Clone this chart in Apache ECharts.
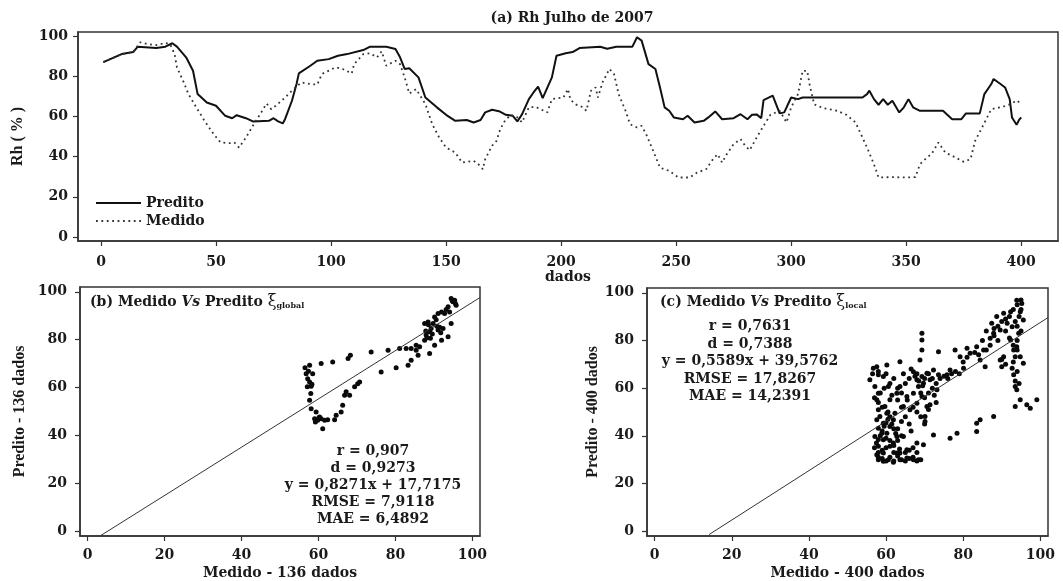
<!DOCTYPE html>
<html><head><meta charset="utf-8">
<script src="https://cdn.jsdelivr.net/npm/echarts@6/dist/echarts.min.js"></script>
<style>html,body{margin:0;padding:0;background:#fff}#c{width:1063px;height:581px}</style>
</head><body><div id="c"></div>
<script>
// ---- (a) time series: index of sample (dados) and Rh (%) ----
const predX = [1,5,9,14,16,24,28,31,33,37,40,42,46,50,54,57,59,63,66,73,75,77,79,80,83,85,86,91,94,99,103,107,114,117,124,128,130,132,134,138,141,146,150,154,159,162,165,167,170,173,176,179,181,183,186,188,190,192,196,198,202,205,208,217,220,224,231,233,235,238,241,243,245,247,249,253,255,258,262,264,267,270,275,278,281,283,285,287,288,292,295,297,300,303,305,331,333,334,336,338,340,342,344,347,349,351,353,356,366,370,374,376,382,384,387,388,391,393,395,396,398,399,400];
const predY = [87,89,91,92,94.7,94,94.7,96.4,94.7,89.4,82.7,71.1,66.9,65.3,60.3,59.1,60.6,59.1,57.5,57.8,59.1,57.5,56.5,58.6,67.8,76.1,81.4,85.2,87.7,88.5,90.2,91,93,94.7,94.7,93.5,89.4,83.6,84,79.4,69.4,64.5,60.8,57.8,58.2,57,58.2,62,63.3,62.6,60.8,60.3,57.5,61,68.6,71.9,74.8,69.1,79.4,90.2,91.4,92,94,94.7,93.7,94.7,94.7,99.4,97.7,86,83.6,74.4,64.5,62.8,59.5,58.6,60.3,57,57.8,59.5,62.5,58.6,59.1,61.1,58.6,60.8,61,59.1,68.1,70.3,61.5,62,69.4,68.6,69.4,69.4,71.1,72.8,68.6,65.8,68.6,65.8,67.8,62,64.5,68.6,64.5,62.8,62.8,58.6,58.6,61.5,61.5,71.1,76.1,78.6,76.1,74.4,68.6,59.5,55.8,58.1,59.5];
const medX = [1,5,9,14,17,20,24,28,30,32,33,36,38,41,45,49,52,56,58,60,63,66,69,72,74,76,80,83,87,91,94,96,102,105,109,110,114,117,120,122,124,128,130,132,134,137,141,144,147,150,154,157,162,164,166,167,170,172,173,175,178,181,183,186,189,194,196,201,203,204,206,209,211,213,215,216,218,221,223,225,228,230,233,235,237,240,243,247,251,256,259,263,266,268,270,272,275,278,280,282,285,288,291,295,298,300,303,305,307,308,310,314,320,324,328,330,333,336,338,344,350,354,356,359,361,364,367,370,375,378,380,383,387,392,396,398,400];
const medY = [87,89,91,92,96.9,96,95.5,96.5,96,91,84.4,76.9,71.1,65.3,57.8,51.1,47,46.7,47,44.5,49.5,55.3,60.8,66.4,63.6,65.3,69.4,72.8,76.9,76.1,75.8,81.1,84.4,83.6,81.4,86,91,91.4,89.4,92.4,85.2,87.7,86,79.4,71.4,73.6,66.1,56.1,49.5,44.5,42,37,37.9,36.2,33.7,38.7,45.4,47.9,52,57,60.8,59.5,57,64.5,64.7,62,68.6,69.4,73.6,68.6,66.1,64.8,62.8,72.8,74.4,69.4,76.9,83.6,81.1,71.1,62.8,56.1,54.5,55.3,51.1,42.9,34.5,32.9,29.6,29.6,32,33.7,38.7,41.2,37,41.2,46.2,48.7,45.4,43.2,49.5,55.3,60.8,62.8,57,64.5,71.1,82.7,82.7,76,66,64.1,62.8,60.8,57,52,44.5,36.2,29.6,29.8,29.6,29.8,36.2,39.5,41.2,47,42,40.4,37.4,38.7,47.9,54.5,63.6,64.8,66.4,68,66.4];

// ---- (b) Medido vs Predito, global ----
const bMed = [56.5,57.7,56.8,58.5,57.2,57.7,58.1,57.1,58,57.7,58.1,59.4,59,59.8,60.7,61.1,61.6,60.3,62.4,64.2,64.6,65.9,66.3,66.8,67.2,68.1,69.4,70.7,70.2,60.7,63.7,67.7,68.3,73.7,76.3,78.1,80.2,81.1,82.8,84.1,83.3,84.1,85.4,85.4,85.9,86.3,87.6,88,87.6,88.5,88.9,89.3,88.9,90.2,90.2,91.1,92,91.1,92,92.4,93.7,94.5,94.1,95,95.4,94.5,95.8,93.7,92.8,89.8,57.4,58.3,59.2,60.1,88.2,88.6,89.6,90.6,91.5,94.8,95.6,93.2,87.9,89.1,90.8,91.8];
const bPred = [68.3,69.3,65.8,65.8,63.7,62.3,60.5,60.3,57.5,54.7,51.2,49.8,47,46.3,47,42.8,46.3,47.7,46.6,46.6,48.4,49.8,52.6,56.8,58.2,56.8,60.3,62.3,61.6,70,70.7,72.1,73.5,74.9,66.5,75.6,68.3,76.3,76.3,76.3,69.3,71.4,77.7,75.6,73.5,77,79.8,81.9,86.8,87.4,83.3,84.7,74.2,77.7,89.5,90.9,91.6,84,79.8,84.7,81.2,86.8,91.6,95.8,96.5,97.2,94.4,93.7,90.9,86.8,66.8,61.4,45.6,47.4,80.8,86.2,82.4,88.3,85.2,96.2,95.1,92.6,83.6,80.6,85.6,82.9];
const bFitX = [3.5,102], bFitY = [-1.7,97.6];

// ---- (c) Medido vs Predito, local ----
const cMed = [55.8,56.7,57.6,58,57.1,58,57.6,58,57.6,58,57.1,58,57.6,58,59.3,60.6,61.9,63.6,65.4,67.1,68.4,62.8,59.3,59.3,60.2,61,59.3,61.9,58.4,60.2,62.3,62.8,61.9,61,58.9,59.7,61,62.8,63.6,60.6,59.3,60.2,63.6,67.1,68,68.4,67.1,65.4,64.5,66.2,68,69.3,69.7,69.3,68.8,69.3,69.3,69.3,70.6,71.4,70.6,70.1,70.1,71.4,72.3,69.7,68,64.5,65.4,63.6,72.3,73.6,73.6,75.8,76.6,73.2,77.9,79.2,80.1,76.6,78.4,83.5,83.5,84.4,87.9,81,81.8,83.5,84.4,85.3,85.7,87,87.4,87.9,88.7,90.5,89.6,89.6,90,90.5,91.4,92.3,92.7,92.3,93.1,93.5,92.7,93.1,93.5,93.9,93.9,95.2,94.8,94.4,94.8,93.5,94.8,96.5,97.4,99.1,95.6,93.9,95.6,
  57,57.5,58,58.5,59,59.5,60,60.5,61,61.5,62,62.5,60,61,62,63,64,63,64,60.5,59,58,57,58.5,59.5,61,62,60,58,56.5,61.5,63,64,65,66,66.5,58,59,60,61,62,63,64,65,66,67,68,69,58,59,60,62,63.5,65,66,67,68,69.5,69,68.5,67.5,66,65,64.5,66.5,68,70,71,72,73,74,75,77,78,79,76,72,71,70,64,63,65.5,67,68,69,70,71,73,72.5,80,81,83,84,86,87,88,89,90,91,92,93,94,95,94.5,93.5,94,95,94,93,94,93,94,93.5,94.5,92,91,89,90,91,88,86,85,95];
const cPred = [63.5,68.3,69,65.6,60.7,57.9,55.1,50.9,46.7,43.2,39.7,35.6,32.1,30,29.3,30,28.9,30,30.7,30,30,32.8,32.8,38.4,41.1,43.9,45.3,46.7,48.1,49.5,49.5,39.7,37,35.6,41.1,52.3,55.1,57.9,60.7,60.7,64.9,69.7,71.1,66.9,63.5,60.7,57.9,56.5,52.3,50.9,53.7,56.5,62.1,64.9,71.8,76,80.2,83,66.2,63.5,52.3,48.1,46,53,40.4,36.3,37,39.7,34.2,32.8,67.6,65.6,75.3,65.6,67.6,59.3,76,73.2,68.3,39,41.1,45.3,41.8,46.7,48.1,76.7,74.6,77.4,71.8,76,69,80.9,87.2,83,90,91.4,84.4,71.8,69,73.2,87.2,92,85.8,80.2,76,73.2,68.3,65.6,60.7,59.3,96.9,95.5,92,83,73.2,52.3,55.1,53,51.6,55.1,88.6,77.4,70.4,
  35,37,38.5,40,42,44,45.5,47,48,45,43,41,39,38,36,38,40,43,46,50,52,54,56,58,60,62,64,66,67,66,57,55,52,48,45,42,31,30.5,29.5,31,29.5,31.5,30,29.5,30.5,31,29.5,30,33,34,35,33,34.5,33,34,35,33,61,58,63,65,64,62,66,68,66,64,66,64,62,64,65,66,67,66,64,60,58,56,58,60,55,52,50,48,45,51,54,57,71,73,75,74,76,78,82,86,88,89,90,93,95,97,90,88,86,84,80,78,76,71,67,63,62,81,84,80,72,70,85,84,80,93];
const cFitX = [14.1,102], cFitY = [-1.4,89.6];

const xTicksA = [0,50,100,150,200,250,300,350,400];
const yTicks = [0,20,40,60,80,100];

const zip = (a,b) => a.map((v,i)=>[v,b[i]]);
const HF = 'DejaVu Serif';
const VF = 'Liberation Serif';
const ink = '#1a1a1a';

function axis(kind, gi, min, max, ticks, name, nameGap, margin, nameFont) {
  return {
    type:'value', gridIndex:gi, min, max, name, nameLocation:'middle', nameGap,
    nameRotate: kind==='y' ? 90 : 0,
    nameTextStyle:{fontFamily: nameFont, fontWeight:'bold', fontSize: kind==='y'?16:14, color:ink},
    axisLine:{show:true, onZero:false, lineStyle:{color:'#333', width:1.5}},
    axisTick:{show:true, inside:false, length:5, customValues:ticks, lineStyle:{color:'#333', width:1.2}},
    axisLabel:{customValues:ticks, margin, fontFamily:HF, fontWeight:'bold', fontSize:14, color:ink},
    splitLine:{show:false}
  };
}

const chart = echarts.init(document.getElementById('c'), null, {renderer:'canvas'});
const gridStyle = {show:true, borderColor:'#333', borderWidth:1.5, backgroundColor:'transparent'};
const txt = (x,y,text,extra) => ({type:'text', x, y, style:Object.assign({text, fill:ink, font:'bold 14px "DejaVu Serif"', textAlign:'center', align:'center', textVerticalAlign:'top', verticalAlign:'top'}, extra||{})});
const panelTitle = (x,y,letter,sub) => ({type:'text', x, y, style:{
  text:'{b|'+letter+' Medido }{i|Vs}{b| Predito }{x|ξ}{s|'+sub+'}',
  rich:{
    b:{font:'bold 14px "DejaVu Serif"', fill:ink},
    i:{font:'italic bold 14px "DejaVu Serif"', fill:ink},
    x:{font:'16px "DejaVu Serif"', fill:ink},
    s:{font:'bold 8px "DejaVu Serif"', fill:ink, verticalAlign:'bottom', padding:[6,0,0,0]}
  }, textVerticalAlign:'top', verticalAlign:'top'}});

chart.setOption({
  animation:false,
  backgroundColor:'#fff',
  grid:[
    Object.assign({left:78, right:5, top:32, bottom:340}, gridStyle),
    Object.assign({left:80, right:583, top:287, bottom:45}, gridStyle),
    Object.assign({left:647, right:15, top:288, bottom:45}, gridStyle)
  ],
  xAxis:[
    axis('x',0,-10,416,xTicksA,'dados',26,14,HF),
    axis('x',1,-2,102,yTicks,'Medido - 136 dados',30,12,HF),
    axis('x',2,-2,102,yTicks,'Medido - 400 dados',30,12,HF)
  ],
  yAxis:[
    axis('y',0,-2,102,yTicks,'Rh ( % )',52,10,VF),
    axis('y',1,-2,102,yTicks,'Predito - 136 dados',52,13,VF),
    axis('y',2,-2,102,yTicks,'Predito - 400 dados',46,13,VF)
  ],
  legend:{
    data:['Predito','Medido'], orient:'vertical', left:90, top:191, itemWidth:45, itemHeight:10, itemGap:4,
    itemStyle:{opacity:0},
    textStyle:{fontFamily:HF, fontWeight:'bold', fontSize:14, color:ink}
  },
  series:[
    {name:'Predito', type:'line', xAxisIndex:0, yAxisIndex:0, data:zip(predX,predY), symbol:'none',
     itemStyle:{color:'#111'}, lineStyle:{color:'#111', width:2}},
    {name:'Medido', type:'line', xAxisIndex:0, yAxisIndex:0, data:zip(medX,medY), symbol:'none',
     itemStyle:{color:'#333'}, lineStyle:{color:'#333', width:1.8, type:[1.8,3.6]}},
    {type:'line', xAxisIndex:1, yAxisIndex:1, data:zip(bFitX,bFitY), symbol:'none', lineStyle:{color:'#333', width:1}},
    {type:'scatter', xAxisIndex:1, yAxisIndex:1, data:zip(bMed,bPred), symbolSize:5, itemStyle:{color:'#0a0a0a', opacity:1}},
    {type:'line', xAxisIndex:2, yAxisIndex:2, data:zip(cFitX,cFitY), symbol:'none', lineStyle:{color:'#333', width:1}},
    {type:'scatter', xAxisIndex:2, yAxisIndex:2, data:zip(cMed,cPred), symbolSize:5, itemStyle:{color:'#0a0a0a', opacity:1}}
  ],
  graphic:[
    txt(572,11,'(a) Rh Julho de 2007',{font:'bold 14px "DejaVu Serif"'}),
    panelTitle(90,294,'(b)','global'),
    panelTitle(660,294,'(c)','local'),
    txt(373,443,'r = 0,907\nd = 0,9273\ny = 0,8271x + 17,7175\nRMSE = 7,9118\nMAE = 6,4892',{lineHeight:17}),
    txt(750,318,'r = 0,7631\nd = 0,7388\ny = 0,5589x + 39,5762\nRMSE = 17,8267\nMAE = 14,2391',{lineHeight:17.5})
  ]
});
</script></body></html>
